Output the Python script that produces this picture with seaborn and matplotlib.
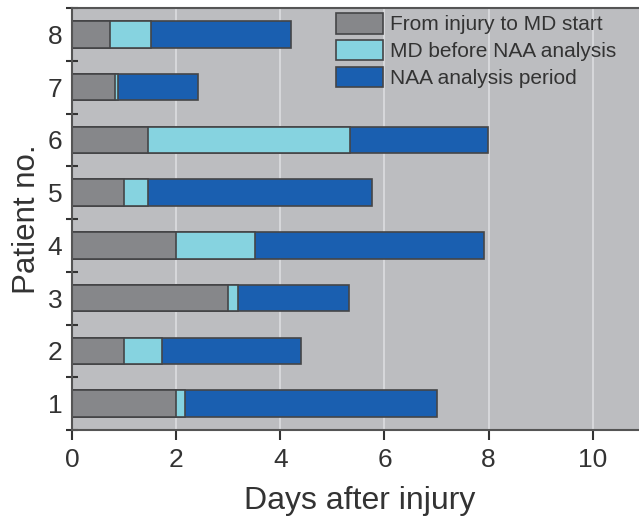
import numpy as np
import pandas as pd
import seaborn as sns
import matplotlib.pyplot as plt
from matplotlib.patches import Patch

patients = [1, 2, 3, 4, 5, 6, 7, 8]
injury_to_md = [2.0, 1.0, 3.0, 2.0, 1.0, 1.46, 0.83, 0.73]
md_before_naa = [0.17, 0.73, 0.19, 1.52, 0.45, 3.87, 0.05, 0.79]
naa_period = [4.83, 2.67, 2.13, 4.40, 4.32, 2.65, 1.54, 2.69]

labels = ['From injury to MD start', 'MD before NAA analysis', 'NAA analysis period']
colors = ['#86878a', '#86d3e0', '#1a5fb0']
edge = '#454547'
text_col = '#333333'


def build_frame():
    df = pd.DataFrame({'patient': patients, 'a': injury_to_md,
                       'b': md_before_naa, 'c': naa_period})
    df['end_a'] = df['a']
    df['end_b'] = df['a'] + df['b']
    df['end_c'] = df['end_b'] + df['c']
    return df


def draw(df):
    sns.set_style('ticks')
    plt.rcParams['font.family'] = ['Liberation Sans', 'DejaVu Sans']
    fig = plt.figure(figsize=(6.39, 5.22), dpi=100)
    # axes runs a little past the right edge, as in the cropped original
    ax = fig.add_axes([72 / 639, 1 - 430 / 522, 576 / 639, 422 / 522])
    ax.set_facecolor('#bcbdc0')
    for x in [2, 4, 6, 8, 10]:
        ax.axvline(x, color='#dcdde0', lw=1.2, zorder=0)

    # stacked bars: draw cumulative ends from the longest to the shortest
    for col, c in zip(['end_c', 'end_b', 'end_a'], colors[::-1]):
        sns.barplot(data=df, x=col, y='patient', orient='h', native_scale=True,
                    color=c, width=0.5, edgecolor=edge, linewidth=1.2,
                    saturation=1, ax=ax, zorder=2)

    ax.set_xlim(0, 11.06)
    ax.set_ylim(0.5, 8.5)
    ax.set_xticks([0, 2, 4, 6, 8, 10])
    ax.set_yticks(patients)
    ax.set_yticks(np.arange(0.5, 8.6, 1.0), minor=True)
    ax.tick_params(axis='y', which='major', length=0, pad=7, labelsize=19, labelcolor=text_col)
    ax.tick_params(axis='y', which='minor', length=8, width=1.5, direction='inout', color='#333')
    ax.tick_params(axis='x', length=7, width=1.5, direction='out', color='#333',
                   labelsize=19, labelcolor=text_col, pad=6)
    ax.set_xlabel('Days after injury', fontsize=23, color=text_col, labelpad=10)
    ax.set_ylabel('Patient no.', fontsize=22.5, color=text_col, labelpad=4)
    ax.spines['right'].set_visible(False)
    for s in ['left', 'bottom', 'top']:
        ax.spines[s].set_linewidth(1.5)
        ax.spines[s].set_color('#555')

    handles = [Patch(facecolor=c, edgecolor=edge, linewidth=1.2) for c in colors]
    ax.legend(handles, labels, loc='upper left', bbox_to_anchor=(0.4445, 1.008),
              frameon=False, fontsize=15, handlelength=2.25, handleheight=1.15,
              labelspacing=0.26, handletextpad=0.33, borderaxespad=0, labelcolor=text_col)
    return fig


if __name__ == '__main__':
    fig = draw(build_frame())
    fig.savefig('out.png', dpi=100)
